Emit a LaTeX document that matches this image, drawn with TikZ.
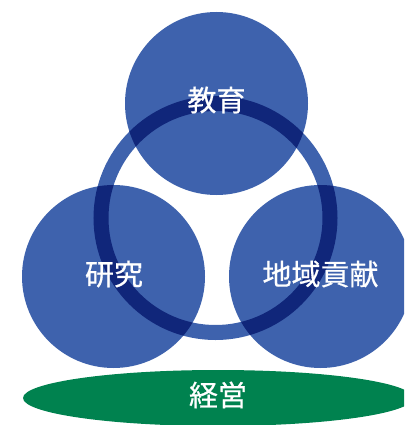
\documentclass[tikz,border=0pt]{standalone}
\usepackage{fontspec}
\newfontfamily\cjk[FakeBold=0.6]{Noto Sans CJK JP}
\definecolor{cblue}{HTML}{3E62AD}
\definecolor{cnavy}{HTML}{10267A}
\definecolor{cgreen}{HTML}{00824F}
\begin{document}
\begin{tikzpicture}[x=1pt,y=-1pt,
  lbl/.style={text=white,font=\cjk\fontsize{29}{32}\selectfont,inner sep=0pt},
  ringline/.style={line width=15pt}]
\useasboundingbox (0,0) rectangle (404,425);
\clip (0,0) rectangle (404,425);
% circles
\coordinate (ct) at (216.5,103.5);
\coordinate (cl) at (113.5,276.5);
\coordinate (cr) at (320.5,276.5);
\coordinate (cc) at (215.5,218);
\fill[cblue] (ct) circle[radius=91.5pt];
\fill[cblue] (cl) circle[radius=91.5pt];
\fill[cblue] (cr) circle[radius=91.5pt];
% ring
\draw[ringline,cblue] (cc) circle[radius=114.5pt];
\foreach \c in {ct,cl,cr}{
  \begin{scope}
    \clip (\c) circle[radius=91.5pt];
    \draw[ringline,cnavy] (cc) circle[radius=114.5pt];
  \end{scope}
}
% ellipse
\fill[cgreen] (218,398) ellipse[x radius=195pt, y radius=28pt];
% labels
\node[lbl] (edu) at (216.5,100) {教育};
\node[lbl] (res) at (114,274) {研究};
\node[lbl] (reg) at (320.5,274) {地域貢献};
\node[lbl] (man) at (218,395) {経営};
\end{tikzpicture}
\end{document}
